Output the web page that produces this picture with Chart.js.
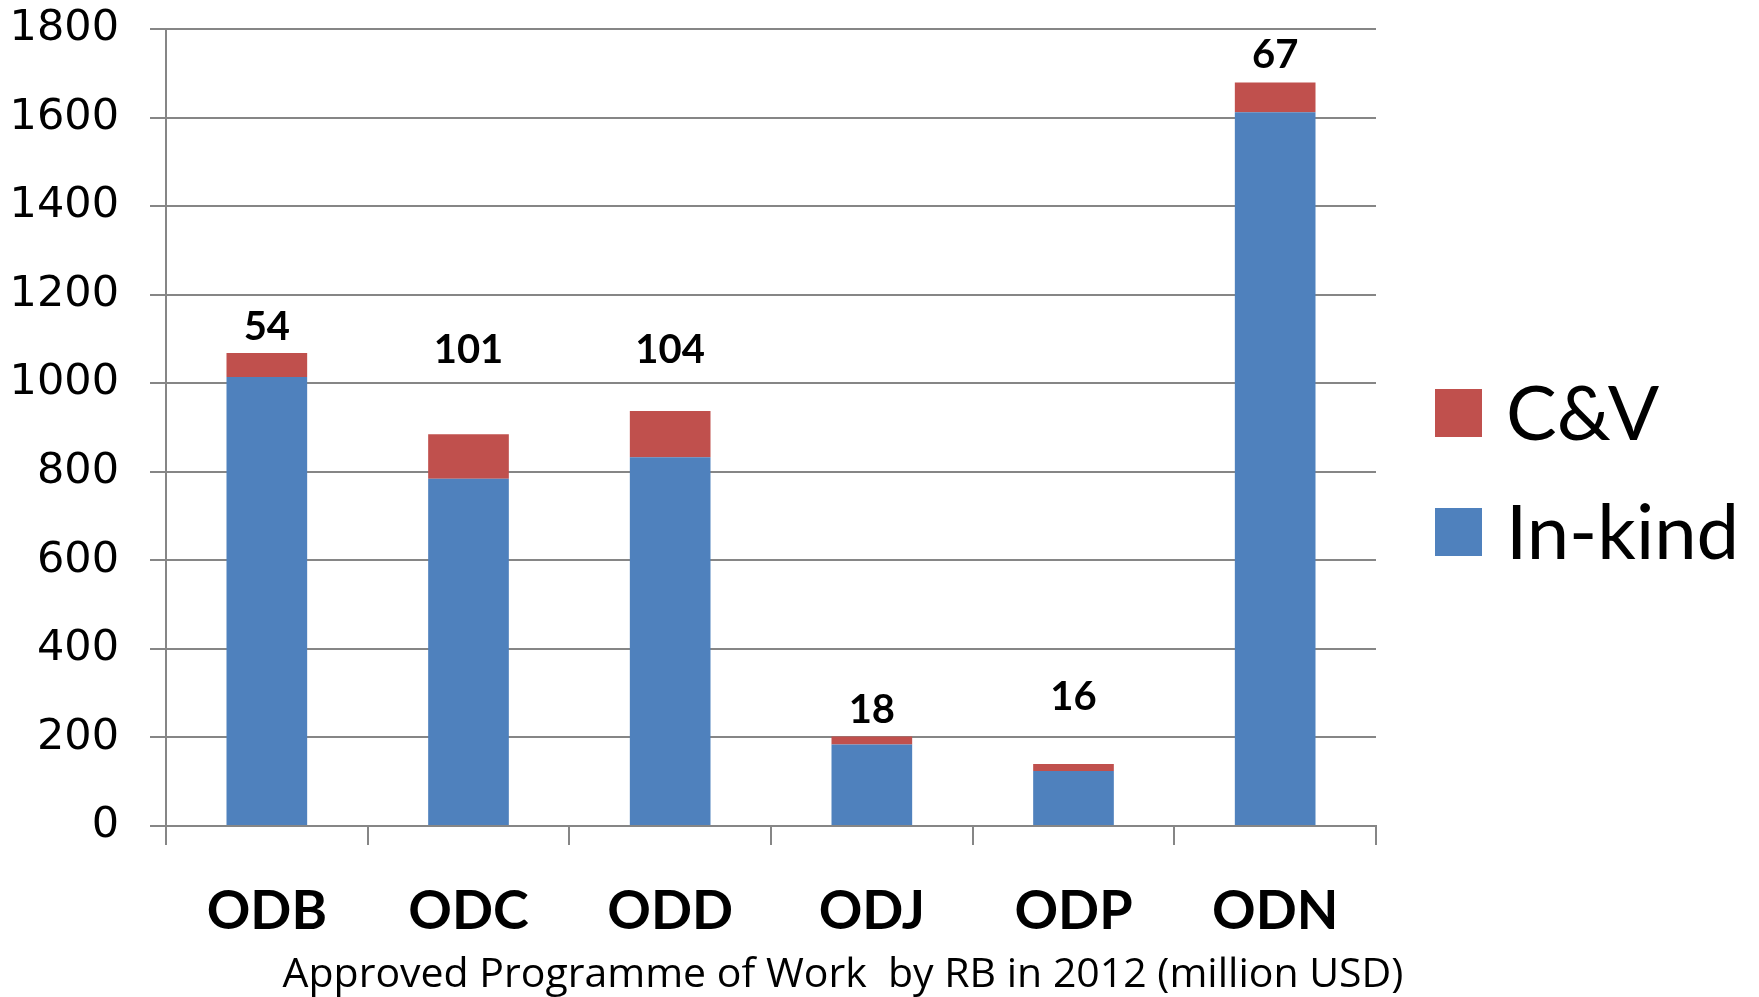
<!DOCTYPE html>
<html lang="en">
  <head>
    <meta charset="UTF-8">
    <title>Approved Programme of Work by RB in 2012</title>
    <script src="https://cdn.jsdelivr.net/npm/chart.js"></script>
    <style>
      html, body { margin: 0; padding: 0; background: #fff; }
      #wrap { width: 1759px; height: 997px; position: relative; }
    </style>
  </head>
  <body>
    <div id="wrap"><canvas id="Chart"></canvas></div>
    <script>
      // values (million USD)
      var categories = ["ODB", "ODC", "ODD", "ODJ", "ODP", "ODN"];
      var inKind = [1014, 784, 833, 184, 124, 1612];
      var cv = [54, 101, 104, 18, 16, 67];
      // height (in axis units) where each C&V label sits
      var labelAt = [1127, 1075, 1075, 262, 291, 1741];
      var yTicks = [0, 200, 400, 600, 800, 1000, 1200, 1400, 1600, 1800];
      var axisTitle = "Approved Programme of Work  by RB in 2012 (million USD)";

      var gridColor = "#868686";

      const extras = {
        id: "extras",
        afterDatasetsDraw(chart) {
          const ctx = chart.ctx;
          const y = chart.scales.y;
          const bars = chart.getDatasetMeta(1).data;
          ctx.save();
          ctx.fillStyle = "#000";
          ctx.font = "bold 40px Lato";
          ctx.textAlign = "center";
          ctx.textBaseline = "middle";
          for (let i = 0; i < cv.length; i++) {
            ctx.fillText(String(cv[i]), bars[i].x, y.getPixelForValue(labelAt[i]));
          }
          ctx.restore();
        },
        afterDraw(chart) {
          const ctx = chart.ctx;
          ctx.save();
          // legend, C&V on top
          const items = [chart.data.datasets[1], chart.data.datasets[0]];
          ctx.font = "76px Lato";
          ctx.textBaseline = "middle";
          ctx.textAlign = "left";
          items.forEach((ds, i) => {
            const cy = 413 + i * 119;
            ctx.fillStyle = ds.backgroundColor;
            ctx.fillRect(1435, cy - 24, 47, 48);
            ctx.fillStyle = "#000";
            ctx.fillText(ds.label, 1506, cy + 2);
          });
          // axis title under the categories
          ctx.font = "41px 'Open Sans'";
          ctx.textAlign = "center";
          ctx.textBaseline = "alphabetic";
          ctx.fillText(axisTitle, 843, 987);
          ctx.restore();
        }
      };

      new Chart("Chart", {
        type: "bar",
        data: {
          labels: categories,
          datasets: [
            { label: "In-kind", data: inKind, backgroundColor: "#4F81BD" },
            { label: "C&V", data: cv, backgroundColor: "#C0504D" }
          ]
        },
        options: {
          responsive: true,
          maintainAspectRatio: false,
          animation: false,
          layout: { padding: { left: 0, right: 383, top: 29, bottom: 0 } },
          datasets: { bar: { barPercentage: 0.4, categoryPercentage: 1 } },
          plugins: {
            legend: { display: false },
            tooltip: { enabled: false }
          },
          scales: {
            x: {
              stacked: true,
              grid: { drawOnChartArea: false, color: gridColor, lineWidth: 2, tickLength: 19, offset: true },
              border: { color: gridColor, width: 2 },
              ticks: { color: "#000", font: { family: "Lato", size: 54, weight: "bold" }, padding: 34 },
              afterFit: s => { s.height = 997 - 826; s.paddingLeft = 0; s.paddingRight = 0; }
            },
            y: {
              stacked: true,
              min: 0,
              max: 1800,
              afterBuildTicks: s => { s.ticks = yTicks.map(v => ({ value: v })); },
              grid: { color: gridColor, lineWidth: 2, tickLength: 16 },
              border: { color: gridColor, width: 2 },
              ticks: { color: "#000", font: { family: "DejaVu Sans", size: 43 }, padding: 31, callback: v => String(v) },
              afterFit: s => { s.width = 166; s.paddingTop = 0; s.paddingBottom = 0; }
            }
          }
        },
        plugins: [extras]
      });
    </script>
  </body>
</html>
